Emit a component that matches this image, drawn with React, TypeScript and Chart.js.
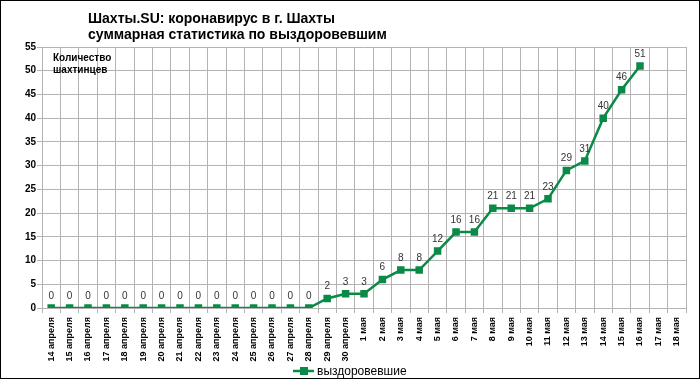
import React, { useEffect, useRef } from "react";
import { Chart, registerables } from "chart.js";

Chart.register(...registerables);

const categories: string[] = [
  "14 апреля", "15 апреля", "16 апреля", "17 апреля", "18 апреля", "19 апреля",
  "20 апреля", "21 апреля", "22 апреля", "23 апреля", "24 апреля", "25 апреля",
  "26 апреля", "27 апреля", "28 апреля", "29 апреля", "30 апреля",
  "1 мая", "2 мая", "3 мая", "4 мая", "5 мая", "6 мая", "7 мая", "8 мая", "9 мая",
  "10 мая", "11 мая", "12 мая", "13 мая", "14 мая", "15 мая", "16 мая", "17 мая", "18 мая",
];

const recovered: (number | null)[] = [
  0, 0, 0, 0, 0, 0, 0, 0, 0, 0, 0, 0, 0, 0, 0, 2, 3,
  3, 6, 8, 8, 12, 16, 16, 21, 21, 21, 23, 29, 31, 40, 46, 51, null, null,
];

const seriesName = "выздоровевшие";
const titleLines = ["Шахты.SU: коронавирус в г. Шахты", "суммарная статистика по выздоровевшим"];
const axisNote = ["Количество", "шахтинцев"];

const GREEN = "#0a8a47";
const FONT = "'Liberation Sans', Arial, sans-serif";

const extras = {
  id: "extras",
  afterDatasetsDraw(chart: any) {
    const ctx = chart.ctx;
    const meta = chart.getDatasetMeta(0);
    ctx.save();
    ctx.font = `10px ${FONT}`;
    ctx.fillStyle = "#333";
    ctx.textAlign = "center";
    ctx.textBaseline = "bottom";
    meta.data.forEach((pt: any, i: number) => {
      const v = recovered[i];
      if (v === null || v === undefined) return;
      ctx.fillText(String(v), pt.x, pt.y - 7);
    });
    ctx.restore();
  },
  afterDraw(chart: any) {
    const ctx = chart.ctx;
    const area = chart.chartArea;
    ctx.save();
    // title
    ctx.font = `bold 14px ${FONT}`;
    ctx.fillStyle = "#000";
    ctx.textAlign = "left";
    ctx.textBaseline = "alphabetic";
    ctx.fillText(titleLines[0], 87, 21.5);
    ctx.fillText(titleLines[1], 87, 37.5);
    // axis note
    ctx.font = `bold 10px ${FONT}`;
    ctx.fillText(axisNote[0], area.left + 11, area.top + 14);
    ctx.fillText(axisNote[1], area.left + 11, area.top + 26);
    // legend
    const cx = 349;
    const ly = 370;
    ctx.strokeStyle = GREEN;
    ctx.lineWidth = 2.5;
    ctx.beginPath();
    ctx.moveTo(cx - 57, ly);
    ctx.lineTo(cx - 36, ly);
    ctx.stroke();
    ctx.fillStyle = GREEN;
    ctx.fillRect(cx - 50, ly - 4, 8, 8);
    ctx.fillStyle = "#000";
    ctx.font = `12px ${FONT}`;
    ctx.textBaseline = "middle";
    ctx.fillText(seriesName, cx - 33, ly + 1);
    ctx.restore();
  },
};

export default function App() {
  const ref = useRef<HTMLCanvasElement | null>(null);
  useEffect(() => {
    if (!ref.current) return;
    const chart = new Chart(ref.current, {
      type: "line",
      data: {
        labels: categories,
        datasets: [
          {
            label: seriesName,
            data: recovered,
            borderColor: GREEN,
            backgroundColor: GREEN,
            borderWidth: 2.5,
            pointStyle: "rect",
            pointRadius: 5.3,
            pointHoverRadius: 5.3,
            pointBackgroundColor: GREEN,
            pointBorderColor: GREEN,
            pointBorderWidth: 0,
            tension: 0,
            spanGaps: false,
          },
        ],
      },
      options: {
        responsive: false,
        animation: false,
        layout: { padding: { top: 46, right: 13, bottom: 0, left: 0 } },
        plugins: {
          legend: { display: false },
          title: { display: false },
          tooltip: { enabled: false },
        },
        scales: {
          x: {
            type: "category",
            offset: true,
            afterFit: (s: any) => {
              s.height = 70;
            },
            grid: { offset: true, color: "#b3b3b3", lineWidth: 1, tickLength: 5, drawTicks: true },
            border: { color: "#b3b3b3" },
            ticks: {
              autoSkip: false,
              maxRotation: 90,
              minRotation: 90,
              color: "#000",
              font: { family: FONT, size: 9, weight: "bold" },
              padding: 4,
            },
          },
          y: {
            min: 0,
            max: 55,
            afterFit: (s: any) => {
              s.width = 41;
            },
            grid: { color: "#b3b3b3", lineWidth: 1, tickLength: 5 },
            border: { color: "#b3b3b3" },
            ticks: {
              stepSize: 5,
              color: "#000",
              font: { family: FONT, size: 10, weight: "bold" },
              padding: 1,
            },
          },
        },
      },
      plugins: [extras],
    });
    return () => chart.destroy();
  }, []);
  return (
    <div
      style={{
        position: "absolute",
        left: 0,
        top: 0,
        width: 700,
        height: 379,
        border: "1px solid #000",
        boxSizing: "border-box",
        background: "#fff",
      }}
    >
      <canvas ref={ref} width={698} height={377} style={{ display: "block" }} />
    </div>
  );
}
